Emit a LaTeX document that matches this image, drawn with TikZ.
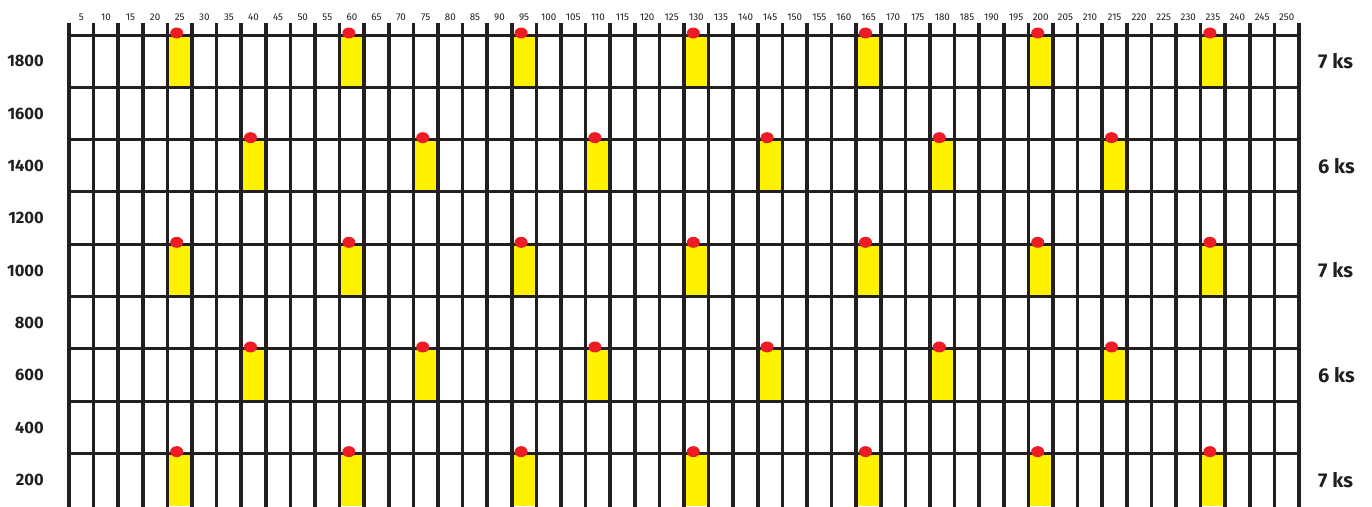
\documentclass[tikz,border=0pt]{standalone}
\usepackage{fontspec}
\setmainfont{Fira Sans}
\definecolor{gridc}{HTML}{231F20}
\definecolor{yel}{HTML}{FFF200}
\definecolor{dotc}{HTML}{ED1C24}
\tikzset{
  gridline/.style={draw=gridc, line width=3.5pt},
  hgridline/.style={draw=gridc, line width=3pt},
  cell/.style={fill=yel},
  dot/.style={fill=dotc, draw=none},
  toplab/.style={font=\fontsize{9.8}{10}\selectfont, text=gridc, inner sep=0pt},
  rowlab/.style={font=\fontsize{16.5}{18}\selectfont\bfseries, text=gridc, inner sep=0pt, anchor=east},
  kslab/.style={font=\fontsize{20}{22}\selectfont\bfseries, text=gridc, inner sep=0pt, anchor=west}
}
\begin{document}
\begin{tikzpicture}[x=1pt,y=-1pt]
\useasboundingbox (0,0) rectangle (1372,506);
\fill[white] (0,0) rectangle (1372,506);
\begin{scope}
\clip (0,0) rectangle (1372,506);
% yellow cells
\foreach \j/\first/\n in {0/5/6, 2/8/5, 4/5/6, 6/8/5, 8/5/6}{
  \foreach \m in {0,...,\n}{
    \pgfmathsetmacro{\c}{\first+7*\m}
    \fill[cell] ({69+(\c-1)*24.6},{35+\j*52.33}) rectangle ({69+\c*24.6},{35+(\j+1)*52.33});
  }
}
% vertical lines
\foreach \i in {0,...,50}{
  \draw[gridline] ({69+\i*24.6},23) -- ({69+\i*24.6},520);
}
% horizontal lines
\foreach \j in {0,...,8}{
  \draw[hgridline] (67.25,{35+\j*52.33}) -- (1300.75,{35+\j*52.33});
}
% dots
\foreach \j/\first/\n in {0/5/6, 2/8/5, 4/5/6, 6/8/5, 8/5/6}{
  \foreach \m in {0,...,\n}{
    \pgfmathsetmacro{\c}{\first+7*\m}
    \fill[dot] ({69+(\c-0.5)*24.6-3},{35+\j*52.33-2}) ellipse [x radius=6.5pt, y radius=5.5pt];
  }
}
\end{scope}
% top labels
\foreach \k in {1,...,50}{
  \pgfmathtruncatemacro{\v}{5*\k}
  \node[toplab] (t\k) at ({69+(\k-0.5)*24.6},17) {\v};
}
% row labels
\foreach \j in {0,...,8}{
  \pgfmathtruncatemacro{\v}{1800-200*\j}
  \node[rowlab] (r\j) at (44,{35+(\j+0.5)*52.33}) {\v};
}
% ks labels
\foreach \j/\t in {0/7 ks, 2/6 ks, 4/7 ks, 6/6 ks, 8/7 ks}{
  \node[kslab] (k\j) at (1318,{35+(\j+0.5)*52.33}) {\t};
}
\end{tikzpicture}
\end{document}
